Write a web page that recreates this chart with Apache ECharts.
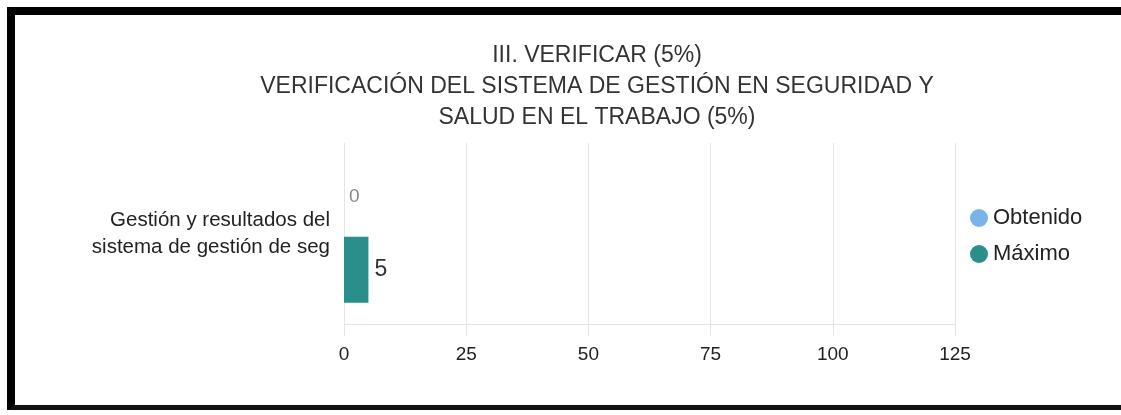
<!DOCTYPE html>
<html>
<head>
<meta charset="utf-8">
<script src="https://cdn.jsdelivr.net/npm/echarts@6/dist/echarts.min.js"></script>
<style>
  html, body { margin: 0; padding: 0; background: #fff; }
  .wrap { position: relative; width: 1121px; height: 415px; overflow: hidden; }
  #chart { position: absolute; left: 0; top: 0; width: 1121px; height: 415px; }
  .frame {
    position: absolute; left: 7px; top: 7px; width: 1121px; height: 403px;
    border-top: 8px solid #000; border-left: 8px solid #000; border-bottom: 5px solid #111;
    box-sizing: border-box; pointer-events: none;
  }
</style>
</head>
<body>
<div class="wrap">
  <div id="chart"></div>
  <div class="frame"></div>
</div>
<script>
// datos
const categories = ["Gestión y resultados del\nsistema de gestión de seg"];
const obtenido = [0];
const maximo = [5];
const seriesNames = ["Obtenido", "Máximo"];
const titleText = "III. VERIFICAR (5%)\nVERIFICACIÓN DEL SISTEMA DE GESTIÓN EN SEGURIDAD Y\nSALUD EN EL TRABAJO (5%)";

const chart = echarts.init(document.getElementById("chart"));
chart.setOption({
  animation: false,
  textStyle: { fontFamily: "Liberation Sans, Arial, sans-serif" },
  graphic: [
    {
      type: "text",
      x: 597,
      y: 40,
      style: {
        text: titleText,
        fill: "#333",
        font: "23px 'Liberation Sans', Arial, sans-serif",
        lineHeight: 31,
        align: "center",
        verticalAlign: "top",
      },
    },
  ],
  legend: {
    orient: "vertical",
    left: 965,
    top: 202,
    icon: "circle",
    itemWidth: 18,
    itemHeight: 18,
    itemGap: 14,
    textStyle: { fontSize: 22, color: "#222" },
    data: seriesNames,
  },
  grid: {
    left: 344,
    right: 166,
    top: 143,
    bottom: 91,
    containLabel: false,
  },
  xAxis: {
    type: "value",
    min: 0,
    max: 125,
    interval: 25,
    axisLine: { show: true, lineStyle: { color: "#e4e4e4" } },
    axisTick: { show: true, length: 12, lineStyle: { color: "#e4e4e4" } },
    splitLine: { lineStyle: { color: "#e4e4e4" } },
    axisLabel: { color: "#222", fontSize: 19, margin: 21 },
  },
  yAxis: {
    type: "category",
    inverse: true,
    data: categories,
    axisLine: { show: false },
    axisTick: { show: false },
    axisLabel: {
      color: "#222",
      fontSize: 20.5,
      lineHeight: 27,
      margin: 14,
      padding: [4, 0, 0, 0],
    },
  },
  series: [
    {
      name: seriesNames[0],
      type: "bar",
      data: obtenido,
      barWidth: 66,
      barGap: "10%",
      itemStyle: { color: "#7ab3ea" },
      label: { show: true, position: "right", distance: 5, color: "#888", fontSize: 19 },
    },
    {
      name: seriesNames[1],
      type: "bar",
      data: maximo,
      barWidth: 66,
      barGap: "10%",
      itemStyle: { color: "#2a8f8b" },
      label: { show: true, position: "right", distance: 6, color: "#333", fontSize: 23 },
    },
  ],
});
</script>
</body>
</html>
